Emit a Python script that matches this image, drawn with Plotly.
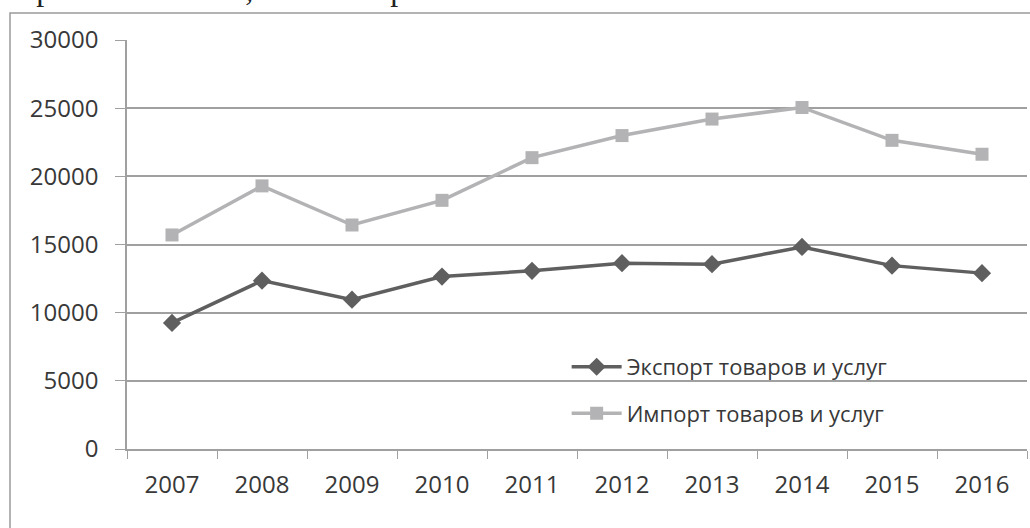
import plotly.graph_objects as go

years = ["2007", "2008", "2009", "2010", "2011", "2012", "2013", "2014", "2015", "2016"]
export_vals = [9250, 12350, 10950, 12650, 13070, 13630, 13560, 14820, 13450, 12900]
import_vals = [15700, 19300, 16430, 18240, 21370, 22990, 24200, 25050, 22640, 21620]
export_name = "Экспорт товаров и услуг"
import_name = "Импорт товаров и услуг"
y_ticks = [0, 5000, 10000, 15000, 20000, 25000, 30000]
y_tick_text = ["0", "5000", "10000", "15000", "20000", "25000", "30000"]
caption = "порт более ёмким, чем импорт."

fig = go.Figure()
fig.add_trace(go.Scatter(
    x=years, y=export_vals, name=export_name, mode="lines+markers",
    line=dict(color="#5f5f5f", width=3.5),
    marker=dict(symbol="diamond", size=14, color="#5f5f5f"),
    legendgroup="a",
))
fig.add_trace(go.Scatter(
    x=years, y=import_vals, name=import_name, mode="lines+markers",
    line=dict(color="#b3b3b5", width=3.5),
    marker=dict(symbol="square", size=13, color="#b3b3b5"),
    legendgroup="b",
))

font_family = "Open Sans"
fig.update_layout(
    width=1030, height=528,
    margin=dict(l=127, r=3, t=40, b=79),
    paper_bgcolor="white", plot_bgcolor="white",
    font=dict(family=font_family, size=22, color="#383838"),
    showlegend=True,
    legend=dict(
        x=0.4885, y=0.252, xanchor="left", yanchor="top",
        bgcolor="rgba(0,0,0,0)", font=dict(size=22, color="#383838"),
        traceorder="grouped", tracegroupgap=15, itemwidth=50,
    ),
    xaxis=dict(
        type="category", showgrid=False, showline=True, linecolor="#a0a0a0", linewidth=1.5,
        ticks="outside", tickson="boundaries", ticklen=8, tickcolor="#a0a0a0",
        tickfont=dict(size=24, color="#383838"), range=[-0.5, 9.5],
        ticklabelstandoff=13,
    ),
    yaxis=dict(
        range=[0, 30000], tickvals=y_ticks, ticktext=y_tick_text,
        showgrid=True, gridcolor="#a0a0a0", gridwidth=1.5,
        showline=True, linecolor="#a0a0a0", linewidth=1.5, zeroline=False,
        ticks="outside", ticklen=10, tickcolor="#a0a0a0",
        tickfont=dict(size=24, color="#383838"), ticklabelstandoff=12,
    ),
    shapes=[dict(
        type="rect", xref="paper", yref="paper",
        x0=-0.13, x1=1.02, y0=-0.25, y1=1.066,
        line=dict(color="#9a9a9a", width=1.5), fillcolor="rgba(0,0,0,0)", layer="below",
    )],
    annotations=[dict(
        text=caption, xref="paper", yref="paper", x=-0.14, y=1.0756,
        xanchor="left", yanchor="bottom", showarrow=False,
        font=dict(family="Liberation Serif", size=32, color="#222222"),
    )],
)

fig.write_html("out.html", config={"displayModeBar": False},
               post_script="document.body.style.margin='0';")
